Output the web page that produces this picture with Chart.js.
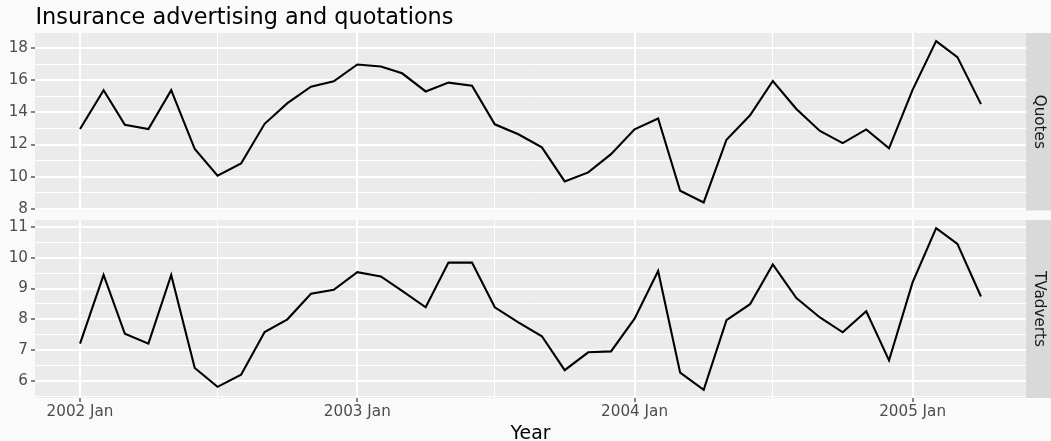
<!DOCTYPE html>
<html>
<head>
<meta charset="utf-8">
<title>Insurance advertising and quotations</title>
<script src="https://cdn.jsdelivr.net/npm/chart.js@4.4.1/dist/chart.umd.min.js"></script>
<style>
  html, body { margin: 0; padding: 0; background: #fafafa; }
  #wrap { position: relative; width: 1051px; height: 441px; overflow: hidden; }
  #wrap canvas { position: absolute; left: 0; top: 0; }
</style>
</head>
<body>
<div id="wrap">
  <canvas id="quotesChart" width="1051" height="441"></canvas>
  <canvas id="tvChart" width="1051" height="441"></canvas>
</div>
<script>
// Monthly observations
const months = [
  '2002 Jan','2002 Feb','2002 Mar','2002 Apr','2002 May','2002 Jun',
  '2002 Jul','2002 Aug','2002 Sep','2002 Oct','2002 Nov','2002 Dec',
  '2003 Jan','2003 Feb','2003 Mar','2003 Apr','2003 May','2003 Jun',
  '2003 Jul','2003 Aug','2003 Sep','2003 Oct','2003 Nov','2003 Dec',
  '2004 Jan','2004 Feb','2004 Mar','2004 Apr','2004 May','2004 Jun',
  '2004 Jul','2004 Aug','2004 Sep','2004 Oct','2004 Nov','2004 Dec',
  '2005 Jan','2005 Feb','2005 Mar','2005 Apr'
];

const quotes = [
  12.97, 15.39, 13.23, 12.97, 15.39, 11.72, 10.06, 10.82, 13.29, 14.58, 15.61, 15.94,
  16.99, 16.86, 16.44, 15.31, 15.86, 15.67, 13.26, 12.64, 11.82, 9.70, 10.26, 11.40,
  12.95, 13.62, 9.12, 8.39, 12.30, 13.82, 15.96, 14.22, 12.85, 12.09, 12.94, 11.76,
  15.41, 18.45, 17.45, 14.52
];

const tvAdverts = [
  7.21, 9.44, 7.53, 7.21, 9.44, 6.42, 5.81, 6.20, 7.59, 8.00, 8.83, 8.96,
  9.53, 9.39, 8.92, 8.39, 9.84, 9.84, 8.39, 7.90, 7.45, 6.35, 6.93, 6.96,
  8.02, 9.57, 6.27, 5.71, 7.97, 8.49, 9.78, 8.69, 8.06, 7.58, 8.26, 6.67,
  9.20, 10.96, 10.45, 8.74
];

// Axis breaks
const quotesBreaks = [8, 10, 12, 14, 16, 18];
const quotesMinor = [9, 11, 13, 15, 17];
const tvBreaks = [6, 7, 8, 9, 10, 11];
const tvMinor = [5.5, 6.5, 7.5, 8.5, 9.5, 10.5];
const yearBreaks = ['2002 Jan', '2003 Jan', '2004 Jan', '2005 Jan'];
const yearMinor = ['2002 Jul', '2003 Jul', '2004 Jul'];

const FONT = "'DejaVu Sans', 'Liberation Sans', sans-serif";
const AXIS_SIZE = 15.2;
const MONTHS = ['Jan','Feb','Mar','Apr','May','Jun','Jul','Aug','Sep','Oct','Nov','Dec'];
const ORIGIN = Date.UTC(2002, 0, 1);

// Days since the first month, so months sit on a true calendar axis
function dayOf(label) {
  const [y, m] = label.split(' ');
  return Math.round((Date.UTC(+y, MONTHS.indexOf(m), 1) - ORIGIN) / 86400000);
}

function expanded(values) {
  const lo = Math.min(...values), hi = Math.max(...values);
  const pad = (hi - lo) * 0.05;
  return { min: lo - pad, max: hi + pad };
}

const xDays = months.map(dayOf);
const xRange = expanded(xDays);
const xMajorDays = new Map(yearBreaks.map(l => [dayOf(l), l]));
const xGrid = [...yearBreaks, ...yearMinor].map(dayOf).sort((a, b) => a - b);

const PANEL_BG = '#ebebeb';
const STRIP_BG = '#d9d9d9';
const TICK_COLOR = '#333333';
const TICK_TEXT = '#4d4d4d';

// Panel background, facet strip and surrounding text
const facetPlugin = {
  id: 'facet',
  beforeDraw(chart, args, opts) {
    const { ctx, chartArea: a } = chart;
    ctx.save();
    ctx.fillStyle = PANEL_BG;
    ctx.fillRect(a.left, a.top, a.right - a.left, a.bottom - a.top);
    ctx.restore();
  },
  afterDraw(chart, args, opts) {
    const { ctx, chartArea: a } = chart;
    ctx.save();
    ctx.fillStyle = STRIP_BG;
    ctx.fillRect(a.right, a.top, 1051 - a.right, a.bottom - a.top);
    ctx.translate(1039, (a.top + a.bottom) / 2);
    ctx.rotate(Math.PI / 2);
    ctx.fillStyle = '#1a1a1a';
    ctx.font = AXIS_SIZE + 'px ' + FONT;
    ctx.textAlign = 'center';
    ctx.textBaseline = 'middle';
    ctx.fillText(opts.strip, 0, 0);
    ctx.restore();

    if (opts.title) {
      ctx.save();
      ctx.fillStyle = '#000000';
      ctx.font = '22.4px ' + FONT;
      ctx.textAlign = 'left';
      ctx.textBaseline = 'alphabetic';
      ctx.fillText(opts.title, 35.5, 24);
      ctx.restore();
    }
    if (opts.xTitle) {
      ctx.save();
      ctx.fillStyle = '#000000';
      ctx.font = '18.8px ' + FONT;
      ctx.textAlign = 'center';
      ctx.textBaseline = 'alphabetic';
      ctx.fillText(opts.xTitle, (a.left + a.right) / 2, 438.5);
      ctx.restore();
    }
  }
};

function yScale(values, breaks, minor) {
  const r = expanded(values);
  const major = new Set(breaks);
  const grid = [...breaks, ...minor].sort((a, b) => a - b);
  return {
    type: 'linear',
    min: r.min,
    max: r.max,
    afterBuildTicks: s => { s.ticks = grid.map(v => ({ value: v })); },
    afterFit: s => { s.width = 35; },
    border: { display: false },
    grid: {
      color: '#ffffff',
      lineWidth: c => (major.has(c.tick && c.tick.value) ? 2 : 1),
      drawTicks: true,
      tickLength: 4,
      tickColor: c => (major.has(c.tick && c.tick.value) ? TICK_COLOR : 'rgba(0,0,0,0)'),
      tickWidth: 1.2
    },
    ticks: {
      autoSkip: false,
      padding: 3,
      color: TICK_TEXT,
      font: { family: FONT, size: AXIS_SIZE },
      callback: v => (major.has(v) ? String(v) : '')
    }
  };
}

function xScale(showLabels) {
  return {
    type: 'linear',
    min: xRange.min,
    max: xRange.max,
    afterBuildTicks: s => { s.ticks = xGrid.map(v => ({ value: v })); },
    afterFit: s => { s.height = showLabels ? 43 : 0; },
    border: { display: false },
    grid: {
      color: '#ffffff',
      lineWidth: c => (xMajorDays.has(c.tick && c.tick.value) ? 2 : 1),
      drawTicks: showLabels,
      tickLength: 4,
      tickColor: c => (xMajorDays.has(c.tick && c.tick.value) ? TICK_COLOR : 'rgba(0,0,0,0)'),
      tickWidth: 1.2
    },
    ticks: {
      display: showLabels,
      autoSkip: false,
      maxRotation: 0,
      padding: 1,
      color: TICK_TEXT,
      font: { family: FONT, size: AXIS_SIZE },
      callback: v => xMajorDays.get(v) || ''
    }
  };
}

function series(values) {
  return [{
    data: values.map((v, i) => ({ x: xDays[i], y: v })),
    borderColor: '#000000',
    borderWidth: 2.1,
    pointRadius: 0,
    tension: 0,
    fill: false
  }];
}

const common = {
  responsive: false,
  devicePixelRatio: 1,
  animation: false,
  parsing: false,
  plugins: { legend: { display: false }, tooltip: { enabled: false } }
};

new Chart(document.getElementById('quotesChart'), {
  type: 'line',
  data: { datasets: series(quotes) },
  plugins: [facetPlugin],
  options: {
    ...common,
    layout: { padding: { left: 0, top: 33, right: 25, bottom: 441 - 210.5 } },
    plugins: { ...common.plugins, facet: { strip: 'Quotes', title: 'Insurance advertising and quotations' } },
    scales: { x: xScale(false), y: yScale(quotes, quotesBreaks, quotesMinor) }
  }
});

new Chart(document.getElementById('tvChart'), {
  type: 'line',
  data: { datasets: series(tvAdverts) },
  plugins: [facetPlugin],
  options: {
    ...common,
    layout: { padding: { left: 0, top: 220, right: 25, bottom: 0 } },
    plugins: { ...common.plugins, facet: { strip: 'TVadverts', xTitle: 'Year' } },
    scales: { x: xScale(true), y: yScale(tvAdverts, tvBreaks, tvMinor) }
  }
});
</script>
</body>
</html>
